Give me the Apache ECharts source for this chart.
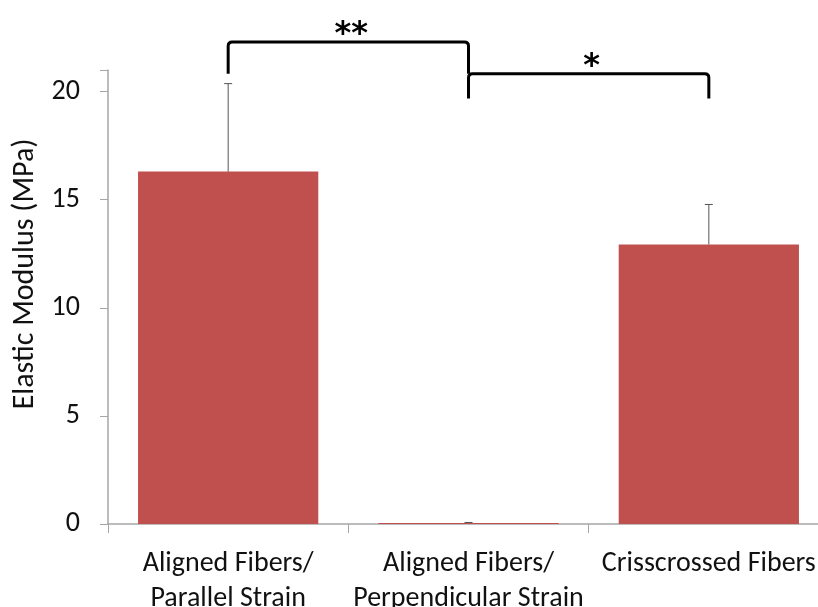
<!DOCTYPE html>
<html><head><meta charset="utf-8">
<script src="https://cdn.jsdelivr.net/npm/echarts@6/dist/echarts.min.js"></script>
<style>html,body{margin:0;padding:0;background:#fff;overflow:hidden}#c{width:818px;height:607px}</style>
</head><body><div id="c"></div>
<script>
var categories = ['Aligned Fibers/\nParallel Strain', 'Aligned Fibers/\nPerpendicular Strain', 'Crisscrossed Fibers'];
var values = [16.3, 0.05, 12.93];
var errors = [4.07, 0.02, 1.85];
var yTicks = [0, 5, 10, 15, 20];
// brackets: [fromCategoryIndex, toCategoryIndex, topValue, legBottomValue, label]
var brackets = [
  [0, 1, 22.3, 20.83, '**'],
  [1, 2, 20.83, 19.68, '*']
];

var chart = echarts.init(document.getElementById('c'));
var font = 'Carlito, Lato, "Open Sans", sans-serif';
chart.setOption({
  animation: false,
  grid: {left: 108, top: 70, width: 721, bottom: 83, containLabel: false, outerBoundsMode: 'none'},
  xAxis: {
    type: 'category', data: categories,
    axisLine: {lineStyle: {color: '#a6a6a6', width: 1.5}},
    axisTick: {show: true, length: 9, lineStyle: {color: '#a6a6a6'}},
    axisLabel: {color: '#111', fontSize: 28, fontFamily: font, margin: 22, lineHeight: 35, interval: 0}
  },
  yAxis: {
    type: 'value', min: 0, max: 21, interval: 5,
    name: 'Elastic Modulus (MPa)', nameLocation: 'middle', nameGap: 62,
    nameTextStyle: {color: '#111', fontSize: 30, fontFamily: font, padding: [0, 0, 0, 46]},
    axisLine: {show: true, lineStyle: {color: '#a6a6a6', width: 1.5}},
    axisTick: {show: true, length: 8, lineStyle: {color: '#a6a6a6'}},
    splitLine: {show: false},
    axisLabel: {color: '#111', fontSize: 28, fontFamily: font, margin: 28,
      formatter: function (v) { return yTicks.indexOf(v) >= 0 ? String(v) : ''; }}
  },
  series: [
    {type: 'bar', data: values, barWidth: '75%', itemStyle: {color: '#c0504d'}, z: 2},
    {
      type: 'custom', z: 3,
      data: values.map(function (v, i) { return [i, v, v + errors[i]]; }),
      renderItem: function (params, api) {
        var b = api.coord([api.value(0), api.value(1)]);
        var t = api.coord([api.value(0), api.value(2)]);
        return {type: 'group', children: [
          {type: 'line', shape: {x1: b[0], y1: b[1], x2: t[0], y2: t[1]}, style: {stroke: '#555', lineWidth: 1}},
          {type: 'line', shape: {x1: t[0] - 4, y1: t[1], x2: t[0] + 4, y2: t[1]}, style: {stroke: '#555', lineWidth: 1}}
        ]};
      }
    },
    {
      type: 'custom', z: 4, clip: false,
      data: brackets,
      renderItem: function (params, api) {
        var a = api.coord([api.value(0), api.value(2)]);
        var b = api.coord([api.value(1), api.value(2)]);
        var bot = api.coord([api.value(0), api.value(3)])[1];
        var r = 4;
        var path = 'M' + a[0] + ' ' + bot + ' L' + a[0] + ' ' + (a[1] + r) +
          ' Q' + a[0] + ' ' + a[1] + ' ' + (a[0] + r) + ' ' + a[1] +
          ' L' + (b[0] - r) + ' ' + b[1] +
          ' Q' + b[0] + ' ' + b[1] + ' ' + b[0] + ' ' + (b[1] + r) +
          ' L' + b[0] + ' ' + bot;
        var label = brackets[params.dataIndex][4];
        return {type: 'group', children: [
          {type: 'path', shape: {pathData: path}, style: {stroke: '#000', lineWidth: 3, fill: null}},
          {type: 'text', x: (a[0] + b[0]) / 2 + 3, y: a[1] + 9, style: {text: label, fontSize: 32, fontWeight: 'bold', fontFamily: 'DejaVu Sans', fill: '#000', align: 'center', verticalAlign: 'bottom'}}
        ]};
      }
    }
  ]
});
</script></body></html>
